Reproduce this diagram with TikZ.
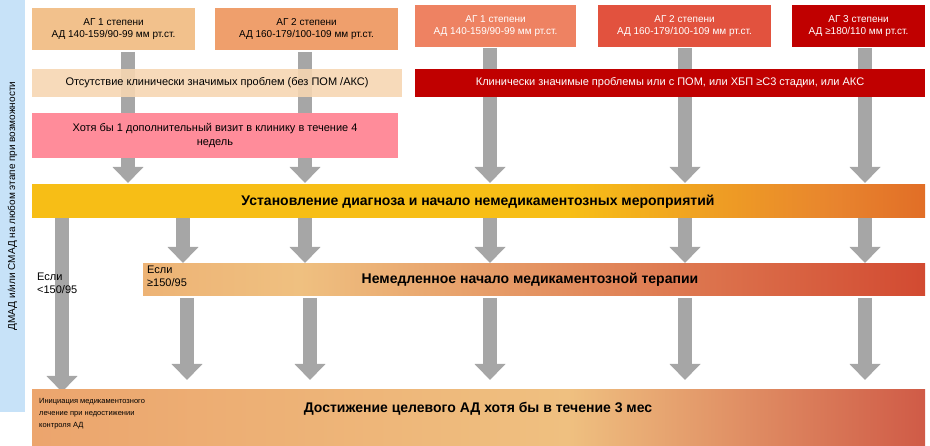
\documentclass[tikz,border=0pt]{standalone}
\usepackage{fontspec}
\setmainfont{Liberation Sans}
\usetikzlibrary{arrows.meta,positioning}
\definecolor{agone}{HTML}{F2C18C}
\definecolor{agtwo}{HTML}{EF9F6C}
\definecolor{agrone}{HTML}{EE8262}
\definecolor{agrtwo}{HTML}{E2523E}
\definecolor{agrthree}{HTML}{C00000}
\definecolor{noprob}{HTML}{F6D6B2}
\definecolor{visit}{HTML}{FF8C9A}
\definecolor{sidebar}{HTML}{C7E2F8}
\definecolor{arrowgrey}{HTML}{A6A6A6}
\definecolor{shyellow}{HTML}{F7BE16}
\definecolor{shorange}{HTML}{E8842E}
\definecolor{shred}{HTML}{C00000}
\definecolor{shsalmon}{HTML}{E8925A}
\definecolor{shsalmonb}{HTML}{EBA06A}
\definecolor{shlight}{HTML}{EFC080}
\definecolor{shdeep}{HTML}{C0282A}
\definecolor{shend}{HTML}{D24A36}
\pgfdeclarehorizontalshading{diagshade}{100bp}{color(0bp)=(shyellow); color(55bp)=(shyellow); color(70bp)=(shorange); color(100bp)=(shred)}
\pgfdeclarehorizontalshading{therapyshade}{100bp}{color(0bp)=(shsalmon); color(35bp)=(shlight); color(100bp)=(shred)}
\pgfdeclarehorizontalshading{goalshade}{100bp}{color(0bp)=(shsalmon); color(20bp)=(shsalmonb); color(55bp)=(shlight); color(85bp)=(shdeep); color(100bp)=(shend)}

\begin{document}
\begin{tikzpicture}[x=1pt,y=-1pt,
    box/.style = {draw=none, inner sep=1pt, align=center, font=\fontsize{10}{11.5}\selectfont},
    barlabel/.style = {font=\bfseries\fontsize{14}{16}\selectfont},
    blockarrow/.style = {draw=arrowgrey, line width=14pt,
      -{Triangle[width=30pt,length=16pt]}}]
  \useasboundingbox (0,0) rectangle (930,446);

  % side bar
  \fill[sidebar] (0,0) rectangle (25,412);
  \node[rotate=90, font=\fontsize{10}{12}\selectfont] (side) at (12.5,206)
    {ДМАД и/или СМАД на любом этапе при возможности};

  % grey arrows (drawn first, boxes on top)
  \coordinate (a1s) at (128,52);  \coordinate (a1e) at (128,183);
  \coordinate (a2s) at (305,52);  \coordinate (a2e) at (305,183);
  \foreach \x [count=\i] in {490,685,865} {
    \coordinate (r\i s) at (\x,48);
    \coordinate (r\i e) at (\x,183);
    \draw[blockarrow] (r\i s) -- (r\i e);
  }
  \draw[blockarrow] (a1s) -- (a1e);
  \draw[blockarrow] (a2s) -- (a2e);
  \foreach \x [count=\i] in {183,305,490,685,865} {
    \coordinate (m\i s) at (\x,218);
    \coordinate (m\i e) at (\x,263);
    \draw[blockarrow] (m\i s) -- (m\i e);
  }
  \foreach \x [count=\i] in {187,310,490,685,865} {
    \coordinate (t\i s) at (\x,298);
    \coordinate (t\i e) at (\x,380);
    \draw[blockarrow] (t\i s) -- (t\i e);
  }
  \coordinate (ls) at (62,218); \coordinate (le) at (62,392);
  \draw[blockarrow] (ls) -- (le);

  % top grade boxes
  \fill[agone] (32,8) rectangle (195,50);
  \node[box] (g1) at (113.5,29) {АГ 1 степени\\АД 140-159/90-99 мм рт.ст.};
  \fill[agtwo] (215,8) rectangle (398,50);
  \node[box] (g2) at (306.5,29) {АГ 2 степени\\АД 160-179/100-109 мм рт.ст.};
  \fill[agrone] (415,5) rectangle (576,47);
  \node[box, text=white] (h1) at (495.5,26) {АГ 1 степени\\АД 140-159/90-99 мм рт.ст.};
  \fill[agrtwo] (598,5) rectangle (771,47);
  \node[box, text=white] (h2) at (684.5,26) {АГ 2 степени\\АД 160-179/100-109 мм рт.ст.};
  \fill[agrthree] (792,5) rectangle (925,47);
  \node[box, text=white] (h3) at (858.5,26) {АГ 3 степени\\АД ≥180/110 мм рт.ст.};

  % problem rows
  \fill[noprob, opacity=0.9] (32,69) rectangle (402,97);
  \node[box, font=\fontsize{11}{13}\selectfont] (noprob) at (217,83)
    {Отсутствие клинически значимых проблем (без ПОМ /АКС)};
  \fill[agrthree] (415,69) rectangle (925,97);
  \node[box, text=white, font=\fontsize{11}{13}\selectfont] (prob) at (670,83)
    {Клинически значимые проблемы  или с  ПОМ, или ХБП ≥С3 стадии, или АКС};

  \fill[visit] (32,113) rectangle (398,158);
  \node[box, font=\fontsize{11}{14}\selectfont] (visit) at (215,135.5)
    {Хотя бы 1 дополнительный визит в клинику в течение 4\\недель};

  % shaded bars
  \shade[shading=diagshade] (32,185) rectangle (925,218);
  \node[barlabel] (diag) at (478,201.5)
    {Установление диагноза и начало немедикаментозных мероприятий};
  \shade[shading=therapyshade] (143,264) rectangle (925,296);
  \node[barlabel] (therapy) at (530,280) {Немедленное начало медикаментозной терапии};
  \node[box, align=left, anchor=north west, font=\fontsize{11}{13}\selectfont] (ifhigh) at (146,265)
    {Если\\≥150/95};
  \node[box, align=left, anchor=north west, font=\fontsize{11}{13}\selectfont] (iflow) at (36,272)
    {Если\\<150/95};
  \shade[shading=goalshade] (32,390) rectangle (925,446);
  \node[barlabel] (goal) at (478,409) {Достижение целевого АД хотя бы в течение 3 мес};
  \node[box, align=left, anchor=north west, font=\fontsize{7.5}{12}\selectfont] (init) at (38,397)
    {Инициация медикаментозного\\лечение при недостижении\\контроля АД};
\end{tikzpicture}
\end{document}
